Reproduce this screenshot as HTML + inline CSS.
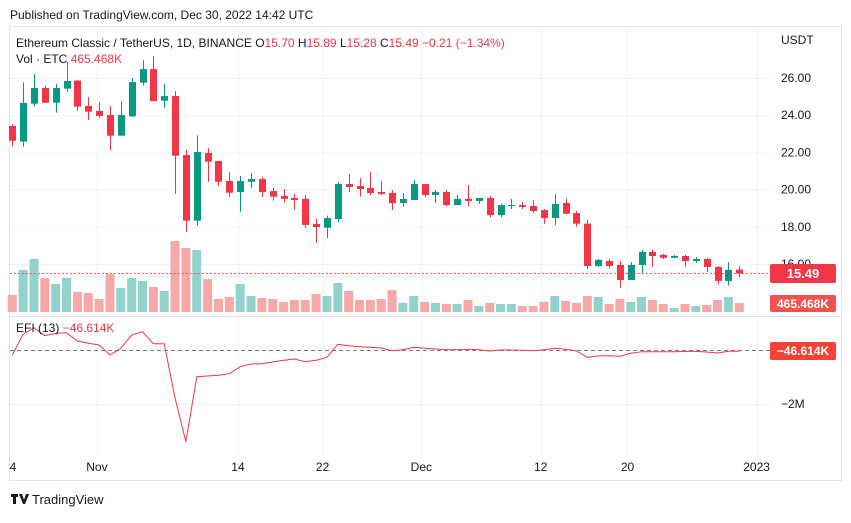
<!DOCTYPE html>
<html><head><meta charset="utf-8"><style>
body{margin:0;width:851px;height:518px;background:#fff;font-family:"Liberation Sans",sans-serif;overflow:hidden}
svg text{font-family:"Liberation Sans",sans-serif}
</style></head><body>
<svg id="c" width="851" height="518" xmlns="http://www.w3.org/2000/svg">
<text x="10" y="19" font-size="12" fill="#131722">Published on TradingView.com, Dec 30, 2022 14:42 UTC</text>
<rect x="9.5" y="26.5" width="832" height="454" fill="none" stroke="#e0e3eb"/>
<g id="grid"></g>
<g id="vol"></g>
<g id="candles"></g>
<line x1="10" x2="770" y1="273.5" y2="273.5" stroke="#f23645" stroke-dasharray="1.5,2.5"/>
<line x1="10" x2="841" y1="316.5" y2="316.5" stroke="#e0e3eb"/>
<line x1="10" x2="770" y1="350.5" y2="350.5" stroke="#787b86" stroke-dasharray="4,3"/>
<polyline id="efi" fill="none" stroke="#f23645" stroke-width="1"/>
<g id="axis"></g>
<text x="16" y="47" font-size="12" fill="#131722">Ethereum Classic / TetherUS, 1D, BINANCE  <tspan>O</tspan><tspan fill="#f23645">15.70</tspan>  H<tspan fill="#f23645">15.89</tspan>  L<tspan fill="#f23645">15.28</tspan>  C<tspan fill="#f23645">15.49  −0.21 (−1.34%)</tspan></text>
<text x="16" y="63" font-size="12" fill="#131722">Vol · ETC <tspan fill="#f23645">465.468K</tspan></text>
<text x="16" y="332" font-size="12" fill="#131722">EFI (13) <tspan fill="#f23645">−46.614K</tspan></text>
<text x="781" y="44" font-size="12" fill="#131722">USDT</text>
<rect x="770" y="264" width="66" height="19" rx="2" fill="#f23645"/>
<text x="803" y="278" font-size="13" fill="#fff" text-anchor="middle" font-weight="bold">15.49</text>
<rect x="770" y="295" width="66" height="17" rx="2" fill="#ef5350"/>
<text x="803" y="308" font-size="12" fill="#fff" text-anchor="middle" font-weight="bold">465.468K</text>
<rect x="770" y="342" width="66" height="18" rx="2" fill="#f44336"/>
<text x="803" y="355" font-size="12" fill="#fff" text-anchor="middle" font-weight="bold">−46.614K</text>
<g>
<path d="M11 494h7v3h-2v7h-3v-7h-2z M19 494h3l2 6 2-6h3l-4 10h-2z" fill="#131722"/>
<text x="32" y="504" font-size="13" fill="#131722">TradingView</text></g>
</svg>
<script>
const opens=[23.42,22.58,24.62,25.46,24.67,25.43,25.86,24.5,24.23,24.01,22.9,23.94,25.75,26.48,24.78,25.03,21.86,18.33,21.97,21.54,20.46,19.87,20.42,20.57,19.92,19.66,19.55,19.5,18.15,17.95,18.42,20.3,20.19,20.09,19.87,19.82,19.28,19.44,20.3,19.71,19.87,19.17,19.5,19.39,19.55,18.63,19.12,19.17,19.12,18.9,18.47,19.28,18.74,18.17,15.89,16.16,15.95,15.14,15.95,16.65,16.49,16.33,16.43,16.16,16.27,15.84,15.09,15.70];
const highs=[23.53,25.77,26.2,25.6,25.68,26.86,25.9,24.98,24.7,24.5,24.76,25.99,26.97,27.18,25.68,25.3,22.13,22.92,22.24,21.54,20.94,20.73,20.9,20.69,20.1,20.03,19.78,19.7,18.42,18.6,20.4,20.84,20.62,20.95,20.46,19.98,19.82,20.52,20.3,19.98,19.98,19.71,20.25,19.55,19.66,19.23,19.5,19.34,19.44,18.96,19.77,19.5,18.85,18.38,16.27,16.27,16.16,16.11,16.76,16.76,16.54,16.49,16.49,16.38,16.33,15.89,16.11,15.89];
const lows=[22.31,22.31,24.46,24.67,24.14,25.26,24.24,23.74,23.86,22.1,22.9,23.9,25.59,24.76,24.4,19.78,17.74,18.06,20.42,20.2,19.6,18.81,20.1,19.6,19.4,19.3,18.9,17.95,17.13,17.4,18.25,19.87,19.62,19.71,19.71,18.9,19.07,19.44,19.6,19.28,19.1,19.17,19.1,19.23,18.52,18.52,18.96,18.96,18.74,18.15,18.1,18.69,18.0,15.73,15.85,15.76,14.73,15.14,15.52,15.84,16.27,16.33,15.84,16.05,15.57,14.9,14.84,15.28];
const closes=[22.63,24.66,25.46,24.67,25.46,25.84,24.46,24.19,23.96,22.9,24.01,25.78,26.48,24.76,25.03,21.82,18.33,22.02,21.5,20.42,19.83,20.46,20.57,19.87,19.62,19.5,19.44,18.1,17.99,18.47,20.3,20.14,20.03,19.82,19.76,19.28,19.5,20.3,19.71,19.87,19.17,19.5,19.39,19.55,18.63,19.17,19.17,19.07,18.85,18.47,19.23,18.7,18.17,15.89,16.22,15.89,15.14,15.95,16.65,16.43,16.33,16.43,16.16,16.27,15.84,15.09,15.68,15.49];
const volumes=[884,2184,2756,1768,1456,1768,1040,988,676,1976,1248,1768,1612,1300,1092,3692,3328,3224,1716,676,780,1456,832,728,676,520,624,624,936,832,1508,1092,624,624,676,1144,468,832,520,468,416,416,624,312,468,416,416,312,312,520,832,572,468,832,780,416,676,520,780,624,416,208,416,312,364,624,780,465];
const efi=[-185,581,826,530,617,642,333,247,185,-185,62,556,679,235,235,-1790,-3395,-988,-963,-938,-877,-617,-519,-506,-444,-383,-333,-432,-383,-272,210,160,123,99,74,-25,12,99,62,37,12,12,25,12,-37,0,0,-12,-25,12,62,25,-37,-272,-222,-210,-235,-123,-62,-62,-62,-62,-50,-50,-74,-111,-47,-47];
const priceTicks=[26,24,22,20,18,16];
const efiTicks=[-2000];
const dateLabels=["4","Nov","14","22","Dec","12","20","2023"];
const dateIdx=[0,7.8,20.8,28.6,37.7,48.7,56.7,68.6];

const NS="http://www.w3.org/2000/svg";
const xS=i=>12.3+i*10.85;
const yP=p=>78+(26-p)*18.6;
const yV=v=>312-v/52;
const yE=v=>350-v*27/1000;
function mk(tag,attrs,parent){const e=document.createElementNS(NS,tag);for(const k in attrs)e.setAttribute(k,attrs[k]);parent.appendChild(e);return e;}
const grid=document.getElementById('grid'),axis=document.getElementById('axis');
priceTicks.forEach(p=>{
 const l=mk('line',{x1:10,x2:770,y1:yP(p)+0.5,y2:yP(p)+0.5,stroke:'#f0f3fa'},grid);
 
 
 const t=mk('text',{x:781,y:yP(p)+4,'font-size':12,fill:'#131722'},axis);t.textContent=p.toFixed(2);
 
 
});
efiTicks.forEach(v=>{
 const l=mk('line',{x1:10,x2:770,y1:yE(v)+0.5,y2:yE(v)+0.5,stroke:'#f0f3fa'},grid);
 
 
 const t=mk('text',{x:781,y:yE(v)+4,'font-size':12,fill:'#131722'},axis);t.textContent='−'+Math.abs(v/1000)+'M';
 
 
});
dateLabels.forEach((d,k)=>{
 const x=xS(dateIdx[k]);
 if(k>0){const l=mk('line',{x1:Math.round(x)+0.5,x2:Math.round(x)+0.5,y1:27,y2:456,stroke:'#f0f3fa'},grid);
 
 }
 const t=mk('text',{x:k==0?13:x,y:471,'font-size':12,fill:'#131722','text-anchor':'middle'},axis);t.textContent=d;
 
 
});
const vg=document.getElementById('vol'),cg=document.getElementById('candles');
opens.forEach((o,i)=>{
 const up=closes[i]>=o,x=xS(i);
 const b=mk('rect',{x:x-4.5,y:yV(volumes[i]),width:9,height:312-yV(volumes[i]),fill:up?'#92d2cc':'#f7a9a7'},vg);
 
 
 const col=up?'#089981':'#f23645';
 const w=mk('line',{x1:Math.round(x)+0.5,x2:Math.round(x)+0.5,y1:yP(highs[i]),y2:yP(lows[i]),stroke:col},cg);
 
 
 const t=yP(Math.max(o,closes[i])),bt=yP(Math.min(o,closes[i]));
 const r=mk('rect',{x:Math.round(x)-3,y:t,width:7,height:Math.max(1,bt-t),fill:col},cg);
 
 
});
document.getElementById('efi').setAttribute('points',efi.map((v,i)=>xS(i).toFixed(1)+','+yE(v).toFixed(1)).join(' '));
</script>
</body></html>
